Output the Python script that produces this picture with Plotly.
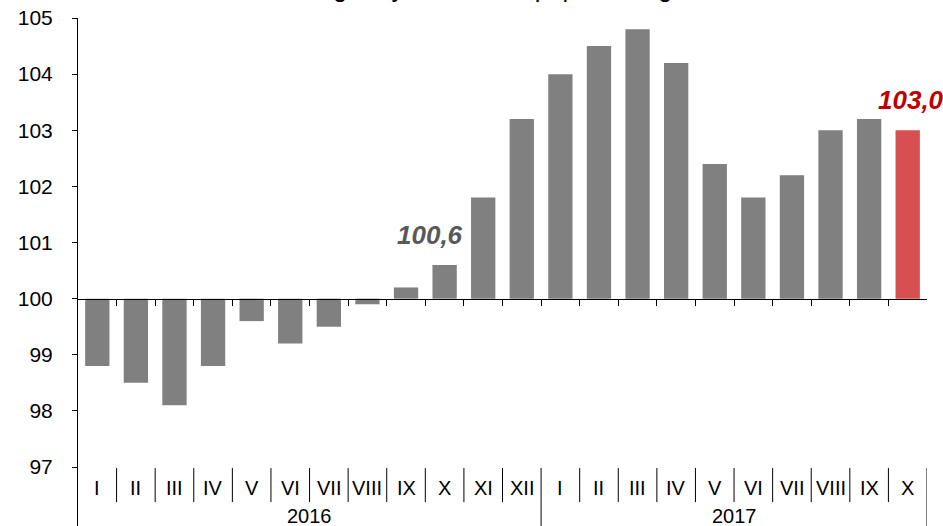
import plotly.graph_objects as go

# Months (Roman numerals) and years
months_2016 = ["I", "II", "III", "IV", "V", "VI", "VII", "VIII", "IX", "X", "XI", "XII"]
months_2017 = ["I", "II", "III", "IV", "V", "VI", "VII", "VIII", "IX", "X"]
years = ["2016", "2017"]

# Index values (same period of previous year = 100)
values_2016 = [98.8, 98.5, 98.1, 98.8, 99.6, 99.2, 99.5, 99.9, 100.2, 100.6, 101.8, 103.2]
values_2017 = [104.0, 104.5, 104.8, 104.2, 102.4, 101.8, 102.2, 103.0, 103.2, 103.0]

title_text = "analogiczny okres roku poprzedniego=100"

months = months_2016 + months_2017
values = values_2016 + values_2017
cats = [f"{m} 2016" for m in months_2016] + [f"{m} 2017" for m in months_2017]

BASE = 100
GRAY = "#808080"
RED = "#D65050"
colors = [GRAY] * (len(values) - 1) + [RED]

fig = go.Figure()
fig.add_trace(go.Bar(
    x=cats,
    y=[v - BASE for v in values],
    base=BASE,
    marker=dict(color=colors, line=dict(width=0)),
    width=0.63,
    hoverinfo="skip",
))

# y range chosen so the plot runs to the bottom edge
y_lo, y_hi = 95.95, 105.0
x_pos = (BASE - y_lo) / (y_hi - y_lo)

fig.update_layout(
    width=943, height=526,
    margin=dict(l=78, r=16, t=18, b=0),
    plot_bgcolor="white", paper_bgcolor="white",
    showlegend=False,
    font=dict(family="Liberation Sans, Arial, sans-serif", color="#000000"),
    xaxis=dict(
        type="category",
        range=[-0.5, len(cats) - 0.5],
        anchor="free", position=x_pos,
        showline=True, linecolor="#000000", linewidth=1,
        showticklabels=False,
        tickmode="array",
        tickvals=[i + 0.5 for i in range(len(cats) - 1)],
        ticks="outside", ticklen=6, tickcolor="#000000",
        showgrid=False, zeroline=False,
    ),
    yaxis=dict(
        range=[y_lo, y_hi],
        tickvals=list(range(97, 106)),
        ticks="outside", ticklen=5, tickcolor="#000000",
        showline=True, linecolor="#000000", linewidth=1,
        showgrid=False, zeroline=False,
        tickfont=dict(size=21),
        ticklabelstandoff=15,
    ),
)

annotations = []
shapes = []

# month labels
for c, m in zip(cats, months):
    annotations.append(dict(x=c, xref="x", y=0.0748, yref="paper", text=m,
                            showarrow=False, font=dict(size=20), yanchor="middle"))

# month separators
y_sep_top, y_sep_bot = 0.114, 0.047
n16 = len(months_2016)
for k in range(len(cats)):
    xk = k + 0.5
    long_sep = k == n16 - 1 or k == len(cats) - 1
    shapes.append(dict(type="line", xref="x", yref="paper", x0=xk, x1=xk,
                       y0=y_sep_top, y1=0 if long_sep else y_sep_bot,
                       line=dict(color="#000000", width=1)))

# year labels
year_centers = [(n16 - 1) / 2, n16 + (len(months_2017) - 1) / 2]
for yr, xc in zip(years, year_centers):
    annotations.append(dict(x=xc, xref="x", y=0.0197, yref="paper", text=yr,
                            showarrow=False, font=dict(size=20), yanchor="middle"))

# value callouts
annotations.append(dict(x=cats[9], xref="x", y=values[9], yref="y", yanchor="middle",
                        yshift=30, xshift=-15, text="<b><i>100,6</i></b>", showarrow=False,
                        font=dict(size=26, color="#595959")))
annotations.append(dict(x=cats[-1], xref="x", y=values[-1], yref="y", yanchor="middle",
                        yshift=30, xshift=3, text="<b><i>103,0</i></b>", showarrow=False,
                        font=dict(size=26, color="#C00000")))

# title (cut off at top of picture, as in the source)
annotations.append(dict(x=0.505, xref="paper", y=1, yref="paper", yanchor="bottom",
                        yshift=14, text=title_text, showarrow=False,
                        font=dict(size=25)))

fig.update_layout(annotations=annotations, shapes=shapes)

fig.write_html("out.html", config={"displayModeBar": False},
               post_script="document.body.style.margin='0px';")
